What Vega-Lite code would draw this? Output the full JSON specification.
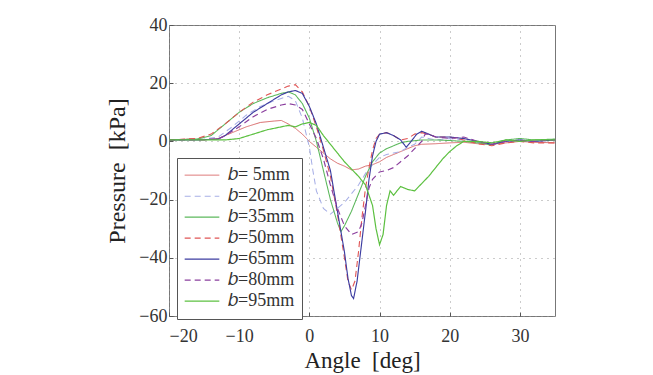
{
  "$schema": "https://vega.github.io/schema/vega-lite/v6.json",
  "width": 386,
  "height": 291,
  "autosize": "none",
  "padding": {"left": 169, "top": 25, "right": 98, "bottom": 59},
  "background": "white",
  "config": {
    "view": {"stroke": "#777", "strokeWidth": 1}
  },
  "datasets": {
    "p": [
      {"b":"𝑏= 5mm","x":-20,"y":0.5},{"b":"𝑏= 5mm","x":-17,"y":0.8},{"b":"𝑏= 5mm","x":-15,"y":0.5},{"b":"𝑏= 5mm","x":-13,"y":1},{"b":"𝑏= 5mm","x":-11,"y":3},{"b":"𝑏= 5mm","x":-9,"y":5},{"b":"𝑏= 5mm","x":-7,"y":6.5},{"b":"𝑏= 5mm","x":-5,"y":7},{"b":"𝑏= 5mm","x":-4,"y":7.2},{"b":"𝑏= 5mm","x":-3,"y":6},{"b":"𝑏= 5mm","x":-2,"y":4.5},{"b":"𝑏= 5mm","x":-1,"y":2.5},{"b":"𝑏= 5mm","x":0,"y":0},{"b":"𝑏= 5mm","x":1,"y":-2},{"b":"𝑏= 5mm","x":2,"y":-4},{"b":"𝑏= 5mm","x":3,"y":-6},{"b":"𝑏= 5mm","x":4,"y":-7.5},{"b":"𝑏= 5mm","x":5,"y":-8.5},{"b":"𝑏= 5mm","x":6,"y":-9.8},{"b":"𝑏= 5mm","x":7,"y":-9.5},{"b":"𝑏= 5mm","x":8,"y":-8.5},{"b":"𝑏= 5mm","x":9,"y":-8},{"b":"𝑏= 5mm","x":10,"y":-7},{"b":"𝑏= 5mm","x":11,"y":-5.5},{"b":"𝑏= 5mm","x":12,"y":-4.5},{"b":"𝑏= 5mm","x":13,"y":-3.5},{"b":"𝑏= 5mm","x":14,"y":-2.5},{"b":"𝑏= 5mm","x":15,"y":-1.5},{"b":"𝑏= 5mm","x":16,"y":-1},{"b":"𝑏= 5mm","x":18,"y":-0.8},{"b":"𝑏= 5mm","x":20,"y":-0.5},{"b":"𝑏= 5mm","x":22,"y":-0.3},{"b":"𝑏= 5mm","x":24,"y":-0.8},{"b":"𝑏= 5mm","x":26,"y":-1},{"b":"𝑏= 5mm","x":28,"y":-0.5},{"b":"𝑏= 5mm","x":30,"y":0},{"b":"𝑏= 5mm","x":32,"y":-0.3},{"b":"𝑏= 5mm","x":35,"y":-0.5},

      {"b":"𝑏=20mm","x":-20,"y":0.5},{"b":"𝑏=20mm","x":-15,"y":0.8},{"b":"𝑏=20mm","x":-13,"y":1.5},{"b":"𝑏=20mm","x":-11,"y":5},{"b":"𝑏=20mm","x":-9,"y":9},{"b":"𝑏=20mm","x":-7,"y":12},{"b":"𝑏=20mm","x":-5,"y":14},{"b":"𝑏=20mm","x":-3,"y":15.5},{"b":"𝑏=20mm","x":-2,"y":14},{"b":"𝑏=20mm","x":-1,"y":8},{"b":"𝑏=20mm","x":0,"y":-2},{"b":"𝑏=20mm","x":0.5,"y":-10},{"b":"𝑏=20mm","x":1,"y":-17},{"b":"𝑏=20mm","x":2,"y":-23},{"b":"𝑏=20mm","x":3,"y":-25},{"b":"𝑏=20mm","x":4,"y":-23},{"b":"𝑏=20mm","x":5,"y":-21},{"b":"𝑏=20mm","x":6,"y":-18},{"b":"𝑏=20mm","x":7,"y":-15},{"b":"𝑏=20mm","x":8,"y":-11},{"b":"𝑏=20mm","x":9,"y":-8},{"b":"𝑏=20mm","x":10,"y":-5.5},{"b":"𝑏=20mm","x":11,"y":-4.5},{"b":"𝑏=20mm","x":12,"y":-4},{"b":"𝑏=20mm","x":13,"y":-3.5},{"b":"𝑏=20mm","x":14,"y":-2},{"b":"𝑏=20mm","x":15,"y":-1},{"b":"𝑏=20mm","x":16,"y":1.5},{"b":"𝑏=20mm","x":17,"y":1},{"b":"𝑏=20mm","x":18,"y":0.5},{"b":"𝑏=20mm","x":20,"y":1},{"b":"𝑏=20mm","x":22,"y":0.5},{"b":"𝑏=20mm","x":24,"y":-0.5},{"b":"𝑏=20mm","x":26,"y":-0.5},{"b":"𝑏=20mm","x":28,"y":0},{"b":"𝑏=20mm","x":30,"y":0.5},{"b":"𝑏=20mm","x":32,"y":0},{"b":"𝑏=20mm","x":35,"y":0.5},

      {"b":"𝑏=35mm","x":-20,"y":0.5},{"b":"𝑏=35mm","x":-16,"y":0.8},{"b":"𝑏=35mm","x":-14,"y":2},{"b":"𝑏=35mm","x":-12,"y":6},{"b":"𝑏=35mm","x":-10,"y":10},{"b":"𝑏=35mm","x":-8,"y":13},{"b":"𝑏=35mm","x":-6,"y":15},{"b":"𝑏=35mm","x":-4,"y":16.5},{"b":"𝑏=35mm","x":-3,"y":17},{"b":"𝑏=35mm","x":-2,"y":16},{"b":"𝑏=35mm","x":-1,"y":13},{"b":"𝑏=35mm","x":0,"y":8},{"b":"𝑏=35mm","x":1,"y":0},{"b":"𝑏=35mm","x":2,"y":-10},{"b":"𝑏=35mm","x":3,"y":-20},{"b":"𝑏=35mm","x":4,"y":-28},{"b":"𝑏=35mm","x":4.5,"y":-31},{"b":"𝑏=35mm","x":5,"y":-29},{"b":"𝑏=35mm","x":6,"y":-24},{"b":"𝑏=35mm","x":7,"y":-18},{"b":"𝑏=35mm","x":8,"y":-12},{"b":"𝑏=35mm","x":9,"y":-7},{"b":"𝑏=35mm","x":10,"y":-4},{"b":"𝑏=35mm","x":11,"y":-2.5},{"b":"𝑏=35mm","x":12,"y":-1.5},{"b":"𝑏=35mm","x":13,"y":-0.5},{"b":"𝑏=35mm","x":14,"y":0},{"b":"𝑏=35mm","x":16,"y":0.5},{"b":"𝑏=35mm","x":18,"y":0.5},{"b":"𝑏=35mm","x":20,"y":0.3},{"b":"𝑏=35mm","x":22,"y":0},{"b":"𝑏=35mm","x":24,"y":-0.5},{"b":"𝑏=35mm","x":26,"y":-1.2},{"b":"𝑏=35mm","x":28,"y":0.5},{"b":"𝑏=35mm","x":30,"y":1},{"b":"𝑏=35mm","x":32,"y":0.5},{"b":"𝑏=35mm","x":35,"y":0.8},

      {"b":"𝑏=50mm","x":-20,"y":0.5},{"b":"𝑏=50mm","x":-16,"y":1},{"b":"𝑏=50mm","x":-14,"y":2.5},{"b":"𝑏=50mm","x":-12,"y":6},{"b":"𝑏=50mm","x":-10,"y":10},{"b":"𝑏=50mm","x":-8,"y":13.5},{"b":"𝑏=50mm","x":-6,"y":16},{"b":"𝑏=50mm","x":-4,"y":18},{"b":"𝑏=50mm","x":-3,"y":19},{"b":"𝑏=50mm","x":-2,"y":19.5},{"b":"𝑏=50mm","x":-1,"y":17},{"b":"𝑏=50mm","x":0,"y":12},{"b":"𝑏=50mm","x":1,"y":5},{"b":"𝑏=50mm","x":2,"y":-3},{"b":"𝑏=50mm","x":3,"y":-12},{"b":"𝑏=50mm","x":4,"y":-25},{"b":"𝑏=50mm","x":5,"y":-40},{"b":"𝑏=50mm","x":5.5,"y":-48},{"b":"𝑏=50mm","x":6,"y":-51},{"b":"𝑏=50mm","x":6.5,"y":-48},{"b":"𝑏=50mm","x":7,"y":-38},{"b":"𝑏=50mm","x":7.5,"y":-26},{"b":"𝑏=50mm","x":8,"y":-16},{"b":"𝑏=50mm","x":8.5,"y":-9},{"b":"𝑏=50mm","x":9,"y":-3},{"b":"𝑏=50mm","x":9.5,"y":1},{"b":"𝑏=50mm","x":10,"y":2.5},{"b":"𝑏=50mm","x":11,"y":3},{"b":"𝑏=50mm","x":12,"y":2},{"b":"𝑏=50mm","x":13,"y":0.5},{"b":"𝑏=50mm","x":14,"y":1},{"b":"𝑏=50mm","x":15,"y":2.5},{"b":"𝑏=50mm","x":16,"y":3},{"b":"𝑏=50mm","x":17,"y":2.5},{"b":"𝑏=50mm","x":18,"y":1.5},{"b":"𝑏=50mm","x":20,"y":1.5},{"b":"𝑏=50mm","x":22,"y":0.5},{"b":"𝑏=50mm","x":24,"y":-0.8},{"b":"𝑏=50mm","x":26,"y":-1.5},{"b":"𝑏=50mm","x":28,"y":-0.5},{"b":"𝑏=50mm","x":30,"y":0},{"b":"𝑏=50mm","x":32,"y":-0.5},{"b":"𝑏=50mm","x":35,"y":-0.5},

      {"b":"𝑏=65mm","x":-20,"y":0.5},{"b":"𝑏=65mm","x":-16,"y":0.5},{"b":"𝑏=65mm","x":-13,"y":0.8},{"b":"𝑏=65mm","x":-12,"y":2},{"b":"𝑏=65mm","x":-10,"y":6},{"b":"𝑏=65mm","x":-8,"y":10},{"b":"𝑏=65mm","x":-6,"y":13},{"b":"𝑏=65mm","x":-4,"y":16},{"b":"𝑏=65mm","x":-3,"y":17},{"b":"𝑏=65mm","x":-2,"y":17.5},{"b":"𝑏=65mm","x":-1,"y":16.5},{"b":"𝑏=65mm","x":0,"y":12},{"b":"𝑏=65mm","x":1,"y":6},{"b":"𝑏=65mm","x":2,"y":-2},{"b":"𝑏=65mm","x":3,"y":-10},{"b":"𝑏=65mm","x":4,"y":-24},{"b":"𝑏=65mm","x":5,"y":-38},{"b":"𝑏=65mm","x":5.5,"y":-47},{"b":"𝑏=65mm","x":6,"y":-53},{"b":"𝑏=65mm","x":6.3,"y":-54},{"b":"𝑏=65mm","x":6.8,"y":-48},{"b":"𝑏=65mm","x":7.3,"y":-38},{"b":"𝑏=65mm","x":8,"y":-24},{"b":"𝑏=65mm","x":8.5,"y":-13},{"b":"𝑏=65mm","x":9,"y":-5},{"b":"𝑏=65mm","x":9.5,"y":0},{"b":"𝑏=65mm","x":10,"y":2.5},{"b":"𝑏=65mm","x":11,"y":3},{"b":"𝑏=65mm","x":12,"y":2},{"b":"𝑏=65mm","x":13,"y":0.5},{"b":"𝑏=65mm","x":13.8,"y":-2},{"b":"𝑏=65mm","x":14.5,"y":0},{"b":"𝑏=65mm","x":15.3,"y":2.5},{"b":"𝑏=65mm","x":16,"y":3.5},{"b":"𝑏=65mm","x":17,"y":2.5},{"b":"𝑏=65mm","x":18,"y":1.5},{"b":"𝑏=65mm","x":20,"y":1.5},{"b":"𝑏=65mm","x":22,"y":1},{"b":"𝑏=65mm","x":24,"y":0},{"b":"𝑏=65mm","x":26,"y":-1},{"b":"𝑏=65mm","x":28,"y":0},{"b":"𝑏=65mm","x":30,"y":0.5},{"b":"𝑏=65mm","x":32,"y":0},{"b":"𝑏=65mm","x":35,"y":0.5},

      {"b":"𝑏=80mm","x":-20,"y":0.5},{"b":"𝑏=80mm","x":-16,"y":0.5},{"b":"𝑏=80mm","x":-13,"y":0.8},{"b":"𝑏=80mm","x":-12,"y":2},{"b":"𝑏=80mm","x":-10,"y":5},{"b":"𝑏=80mm","x":-8,"y":8.5},{"b":"𝑏=80mm","x":-6,"y":11},{"b":"𝑏=80mm","x":-4,"y":12.5},{"b":"𝑏=80mm","x":-3,"y":13},{"b":"𝑏=80mm","x":-2,"y":12.5},{"b":"𝑏=80mm","x":-1,"y":11},{"b":"𝑏=80mm","x":0,"y":6},{"b":"𝑏=80mm","x":1,"y":1},{"b":"𝑏=80mm","x":2,"y":-6},{"b":"𝑏=80mm","x":3,"y":-15},{"b":"𝑏=80mm","x":4,"y":-23},{"b":"𝑏=80mm","x":5,"y":-29},{"b":"𝑏=80mm","x":6,"y":-32},{"b":"𝑏=80mm","x":7,"y":-31},{"b":"𝑏=80mm","x":7.5,"y":-28},{"b":"𝑏=80mm","x":8,"y":-22},{"b":"𝑏=80mm","x":8.5,"y":-16},{"b":"𝑏=80mm","x":9,"y":-13},{"b":"𝑏=80mm","x":10,"y":-10.5},{"b":"𝑏=80mm","x":11,"y":-10},{"b":"𝑏=80mm","x":12,"y":-9},{"b":"𝑏=80mm","x":13,"y":-7},{"b":"𝑏=80mm","x":14,"y":-5},{"b":"𝑏=80mm","x":15,"y":-2.5},{"b":"𝑏=80mm","x":16,"y":0},{"b":"𝑏=80mm","x":16.5,"y":2.5},{"b":"𝑏=80mm","x":17,"y":2.5},{"b":"𝑏=80mm","x":18,"y":1.5},{"b":"𝑏=80mm","x":20,"y":1},{"b":"𝑏=80mm","x":22,"y":1.5},{"b":"𝑏=80mm","x":24,"y":0},{"b":"𝑏=80mm","x":26,"y":-1},{"b":"𝑏=80mm","x":28,"y":0},{"b":"𝑏=80mm","x":30,"y":0.3},{"b":"𝑏=80mm","x":32,"y":0},{"b":"𝑏=80mm","x":35,"y":0.5},

      {"b":"𝑏=95mm","x":-20,"y":0.5},{"b":"𝑏=95mm","x":-15,"y":0.5},{"b":"𝑏=95mm","x":-12,"y":0.5},{"b":"𝑏=95mm","x":-10,"y":1},{"b":"𝑏=95mm","x":-8,"y":2.5},{"b":"𝑏=95mm","x":-6,"y":4},{"b":"𝑏=95mm","x":-4,"y":5},{"b":"𝑏=95mm","x":-3,"y":5.5},{"b":"𝑏=95mm","x":-2,"y":5},{"b":"𝑏=95mm","x":-1,"y":6},{"b":"𝑏=95mm","x":0,"y":6.5},{"b":"𝑏=95mm","x":1,"y":5.5},{"b":"𝑏=95mm","x":2,"y":2},{"b":"𝑏=95mm","x":3,"y":-1},{"b":"𝑏=95mm","x":4,"y":-4},{"b":"𝑏=95mm","x":5,"y":-7},{"b":"𝑏=95mm","x":6,"y":-9.5},{"b":"𝑏=95mm","x":7,"y":-12},{"b":"𝑏=95mm","x":8,"y":-15},{"b":"𝑏=95mm","x":9,"y":-22},{"b":"𝑏=95mm","x":9.5,"y":-30},{"b":"𝑏=95mm","x":10,"y":-35.5},{"b":"𝑏=95mm","x":10.5,"y":-32},{"b":"𝑏=95mm","x":11,"y":-22},{"b":"𝑏=95mm","x":11.5,"y":-17},{"b":"𝑏=95mm","x":12,"y":-18.5},{"b":"𝑏=95mm","x":13,"y":-15.5},{"b":"𝑏=95mm","x":14,"y":-16.5},{"b":"𝑏=95mm","x":15,"y":-17},{"b":"𝑏=95mm","x":16,"y":-14.5},{"b":"𝑏=95mm","x":17,"y":-12},{"b":"𝑏=95mm","x":18,"y":-9},{"b":"𝑏=95mm","x":19,"y":-6},{"b":"𝑏=95mm","x":20,"y":-3.5},{"b":"𝑏=95mm","x":21,"y":-1.5},{"b":"𝑏=95mm","x":22,"y":0},{"b":"𝑏=95mm","x":24,"y":0},{"b":"𝑏=95mm","x":26,"y":-0.5},{"b":"𝑏=95mm","x":28,"y":0.5},{"b":"𝑏=95mm","x":30,"y":0},{"b":"𝑏=95mm","x":32,"y":0.5},{"b":"𝑏=95mm","x":35,"y":0.5}
    ]
  },
  "layer": [
    {
      "data": {"name": "p"},
      "mark": {"type": "line", "clip": true},
      "encoding": {
        "x": {"field": "x", "type": "quantitative", "scale": {"domain": [-20, 35], "nice": false},
              "axis": {"values": [-20, -10, 0, 10, 20, 30], "title": "Angle\u00a0\u00a0[deg]", "titlePadding": 4, "labelPadding": 15,
                       "labelFont": "serif", "labelFontSize": 18, "labelColor": "#333",
                       "titleFont": "serif", "titleFontSize": 23, "titleFontWeight": "normal", "titleColor": "#222",
                       "domain": false, "tickColor": "#555", "tickSize": -4,
                       "gridColor": "#999", "gridDash": [1, 5], "gridWidth": 1}},
        "y": {"field": "y", "type": "quantitative", "scale": {"domain": [-60, 40], "nice": false},
              "axis": {"values": [-60, -40, -20, 0, 20, 40], "title": "Pressure\u00a0\u00a0[kPa]", "titlePadding": 9, "labelPadding": 6,
                       "labelFont": "serif", "labelFontSize": 18, "labelColor": "#333",
                       "titleFont": "serif", "titleFontSize": 24, "titleFontWeight": "normal", "titleColor": "#222",
                       "domain": false, "tickColor": "#555", "tickSize": -4,
                       "gridColor": "#999", "gridDash": [1, 5], "gridWidth": 1}},
        "color": {"field": "b", "type": "ordinal",
          "scale": {"domain": ["𝑏= 5mm","𝑏=20mm","𝑏=35mm","𝑏=50mm","𝑏=65mm","𝑏=80mm","𝑏=95mm"],
                    "range": ["#d96a6a","#a6aee6","#5cb85c","#e05555","#3c3ca0","#8b3f9e","#5cc040"]},
          "legend": {"orient": "none", "legendX": 8, "legendY": 133, "title": null,
            "symbolType": "stroke", "symbolSize": 1200, "clipHeight": 20.3, "fillColor": "white", "strokeColor": "#555",
            "padding": 7, "rowPadding": 0, "labelOffset": 8, "labelFont": "serif", "labelFontSize": 18, "labelColor": "#333"}},
        "strokeDash": {"field": "b", "type": "ordinal",
          "scale": {"domain": ["𝑏= 5mm","𝑏=20mm","𝑏=35mm","𝑏=50mm","𝑏=65mm","𝑏=80mm","𝑏=95mm"],
                    "range": [[1,0],[6,4],[1,0],[6,4],[1,0],[6,4],[1,0]]}},
        "strokeWidth": {"field": "b", "type": "ordinal",
          "scale": {"domain": ["𝑏= 5mm","𝑏=20mm","𝑏=35mm","𝑏=50mm","𝑏=65mm","𝑏=80mm","𝑏=95mm"],
                    "range": [1, 1.2, 1.2, 2.5, 1.6, 2.5, 4]}},
        "order": {"field": "x", "type": "quantitative"}
      }
    },
    {
      "mark": {"type": "text", "text": "////////////////////", "baseline": "top", "dy": 1, "fontSize": 10, "font": "serif", "color": "#555", "clip": false},
      "encoding": {"x": {"datum": 3}, "y": {"datum": -60}}
    }
  ]
}
